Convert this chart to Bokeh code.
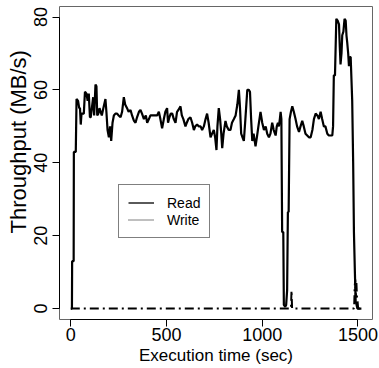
from bokeh.plotting import figure
from bokeh.models import Range1d, FixedTicker, Legend, LegendItem, Title
from bokeh.embed import file_html
from bokeh.resources import INLINE

# Read throughput (time in sec, MB/s)
read_t = [0, 6, 7, 15, 16, 26, 30, 38, 44, 48, 52, 56, 62, 68, 74, 82, 88, 94, 100, 104, 110, 117, 122, 129, 134, 138,
          144, 150, 156, 162, 170, 181, 186, 192, 199, 205, 211, 218, 225, 233, 242, 250, 260, 268, 277, 284, 294, 302,
          312, 320, 330, 338, 346, 356, 364, 372, 382, 392, 399, 408, 416, 425, 435, 444, 451, 460, 468, 477, 486, 494,
          503, 508, 515, 522, 530, 538, 547, 555, 562, 573, 580, 588, 599, 606, 614, 625, 634, 643, 650, 660, 668, 678,
          686, 695, 704, 712, 720, 730, 738, 747, 754, 761, 766, 773, 780, 786, 791, 798, 808, 815, 825, 834, 842, 852,
          861, 870, 878, 884, 890, 897, 904, 912, 922, 930, 936, 942, 948, 955, 965, 972, 980, 991, 1000, 1009, 1018,
          1026, 1035, 1043, 1052, 1060, 1070, 1076, 1082, 1087, 1092, 1096, 1100, 1104, 1110, 1113, 1120, 1125, 1130,
          1134, 1138, 1143, 1150, 1157, 1165, 1174, 1182, 1192, 1200, 1209, 1217, 1226, 1235, 1244, 1253, 1262, 1270,
          1279, 1288, 1296, 1305, 1313, 1322, 1330, 1340, 1348, 1358, 1366, 1370, 1374, 1380, 1387, 1394, 1401, 1405,
          1409, 1414, 1418, 1424, 1430, 1436, 1440, 1444, 1449, 1453, 1458, 1462, 1466, 1470, 1475, 1479, 1484, 1488,
          1493, 1497, 1518]
read_v = [0, 0, 13, 13, 43, 43, 57.5, 57, 55, 55, 50.5, 53.5, 53.5, 53.5, 59.5, 59, 57, 59, 52.5, 52.5, 55, 58, 53, 61.5,
          61, 53, 53.5, 55, 54, 53, 55, 57.5, 54, 49, 47, 50, 46, 51, 53, 53.5, 53.5, 53, 52.5, 54, 58, 56, 55, 54, 54.5,
          53, 51.5, 51, 52.5, 54, 54.5, 53.5, 52, 53, 51, 52, 53, 53, 53, 53, 53, 54, 52, 49.5, 52, 54, 55, 51, 52.5,
          53.5, 53.5, 52, 51, 54, 54.5, 55.5, 53, 52, 50, 51, 52, 52.5, 51, 49, 50, 50.5, 50, 50, 49, 50, 52, 53.5, 51,
          47, 48, 49, 47, 43.5, 50, 55, 52, 48, 44, 48, 51.5, 50, 49, 49, 51, 52, 53, 56, 60, 55, 48, 47, 46, 52, 60,
          60, 59.5, 52, 46, 48, 44.5, 47, 50, 54, 51, 49, 50, 48, 47, 48, 51, 49, 47.5, 50, 51, 50, 52, 54, 52, 21, 21,
          1, 0.5, 1, 5, 26.5, 26.5, 52, 54, 55.5, 54, 52, 50, 48.5, 50, 51.5, 50, 48, 47.5, 47, 47, 49, 52, 53.5, 53,
          52, 54, 52, 50, 50, 48, 47.5, 47.5, 47.5, 50, 64, 64, 79.5, 79, 78, 72, 67, 70, 75, 76, 79.5, 79, 75, 73, 70,
          66.5, 69, 69, 63, 57, 40, 21, 10, 2, 1, 0, 0]

# Write throughput
write_t = [0, 1150, 1153, 1156, 1480, 1483, 1486, 1489, 1492, 1495, 1498, 1501, 1520]
write_v = [0, 0, 5, 0, 0, 6, 8, 3, 7, 3, 2, 0, 0]

x_ticks = [0, 500, 1000, 1500]
y_ticks = [0, 20, 40, 60, 80]
legend_labels = ["Read", "Write"]
x_title = "Execution time (sec)"
y_title = "Throughput (MB/s)"

FONT = "Liberation Sans"
NAN = float("nan")

p = figure(width=378, height=367, output_backend="svg", toolbar_location=None,
           x_range=Range1d(-59, 1576), y_range=Range1d(-3.0, 82.9),
           min_border_left=59, min_border_right=6, min_border_top=6, min_border_bottom=46)

p.grid.visible = False
p.background_fill_color = "white"
p.border_fill_color = "white"
p.outline_line_color = "#666666"
p.outline_line_width = 1

p.line(read_t, read_v, line_color="black", line_width=2.2)
p.line(write_t, write_v, line_color="black", line_width=2, line_dash="9 4 2 4")

# legend-only renderers (no visible data)
r_leg = p.line([NAN], [NAN], line_color="black", line_width=1.3)
w_leg = p.line([NAN], [NAN], line_color="black", line_width=1, line_dash="1 1")

legend = Legend(items=[LegendItem(label=legend_labels[0], renderers=[r_leg]),
                       LegendItem(label=legend_labels[1], renderers=[w_leg])],
                location=(59, 81), padding=9, spacing=0, glyph_width=26, glyph_height=17,
                label_height=17, label_standoff=13, label_text_font=FONT, label_text_font_size="14px",
                label_text_color="black",
                border_line_color="black", border_line_width=1, background_fill_alpha=1.0,
                margin=0)
p.add_layout(legend, "center")

for ax in (p.xaxis[0], p.yaxis[0]):
    ax.major_tick_out = 7
    ax.major_tick_in = 0
    ax.minor_tick_line_color = None
    ax.axis_line_color = "black"
    ax.major_tick_line_color = "black"
    ax.major_label_text_font = FONT
    ax.major_label_text_font_size = "18px"
    ax.major_label_text_color = "black"
    ax.axis_label_text_font = FONT
    ax.axis_label_text_font_style = "normal"
    ax.axis_label_text_color = "black"

p.xaxis[0].ticker = FixedTicker(ticks=x_ticks)
p.yaxis[0].ticker = FixedTicker(ticks=y_ticks)
p.xaxis[0].bounds = (0, 1500)
p.yaxis[0].bounds = (0, 80)
p.yaxis[0].major_label_orientation = "vertical"
p.xaxis[0].axis_label = x_title
p.xaxis[0].axis_label_text_font_size = "17px"
p.xaxis[0].major_label_standoff = 1
p.yaxis[0].major_label_standoff = 5
p.xaxis[0].axis_label_standoff = 2

# y-axis title, placed as in the reference (a little above the frame centre)
p.add_layout(Title(text=y_title, align="left", offset=86, vertical_align="middle", standoff=0,
                   text_font=FONT, text_font_size="22px", text_font_style="normal",
                   text_color="black"), "left")

open("out.html", "w").write(file_html(p, INLINE))
